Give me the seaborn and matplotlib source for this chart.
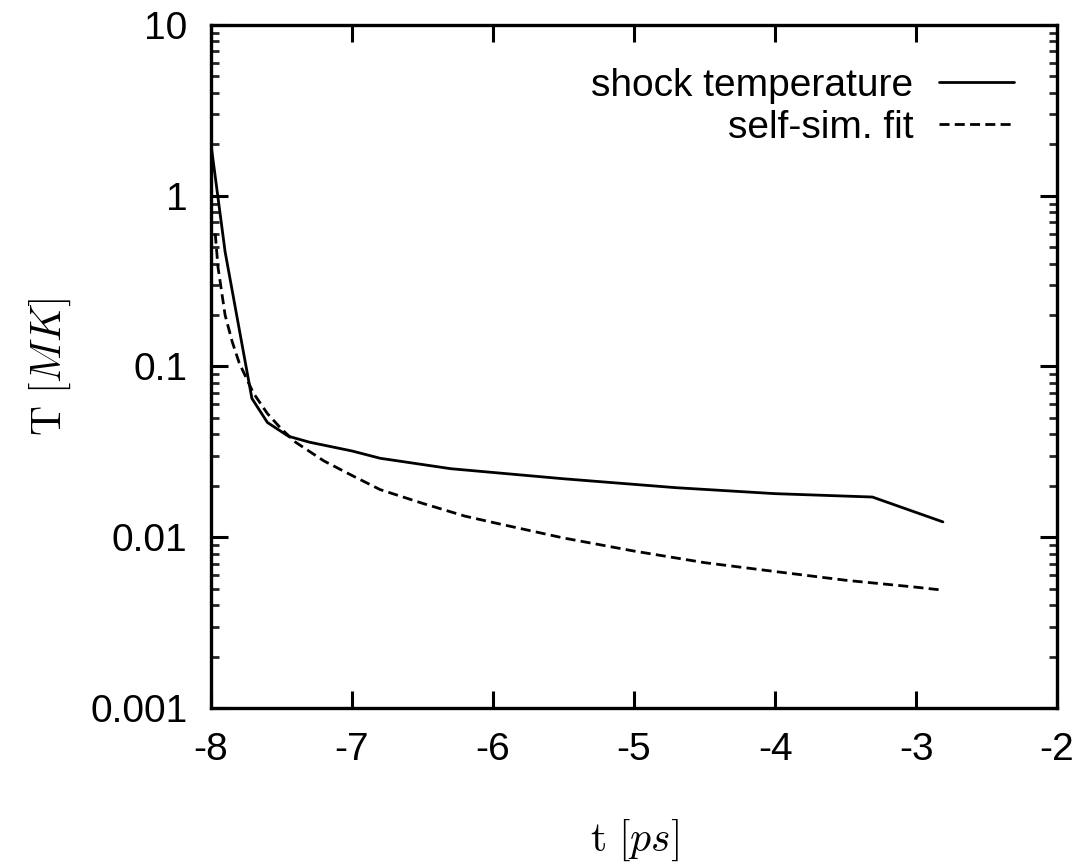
import numpy as np
import pandas as pd
import matplotlib
matplotlib.use("Agg")
import matplotlib.pyplot as plt
import seaborn as sns
from matplotlib.ticker import LogLocator, NullFormatter, FixedLocator
from matplotlib.lines import Line2D

# --- data ---
shock_t = [-8.0, -7.9, -7.71, -7.6, -7.45, -7.3, -7.0, -6.8, -6.3, -5.5, -4.7, -4.0, -3.31, -2.81]
shock_T = [2.0, 0.47, 0.065, 0.047, 0.039, 0.036, 0.032, 0.029, 0.0252, 0.0220, 0.0195, 0.0180, 0.0172, 0.0123]

fit_t = [-7.97, -7.95, -7.9, -7.85, -7.8, -7.7, -7.6, -7.5, -7.4, -7.2, -7.0, -6.8, -6.5,
         -6.2, -6.0, -5.5, -5.0, -4.5, -4.0, -3.5, -3.0, -2.81]
fit_T = [0.6, 0.38, 0.2, 0.14, 0.105, 0.07, 0.053, 0.043, 0.036, 0.028, 0.023, 0.019, 0.0158,
         0.0133, 0.0122, 0.0099, 0.0083, 0.0071, 0.0063, 0.0056, 0.0051, 0.0049]

series_names = ["shock temperature", "self-sim. fit"]
x_ticks = [-8, -7, -6, -5, -4, -3, -2]
y_ticks = [0.001, 0.01, 0.1, 1, 10]
y_tick_labels = ["0.001", "0.01", "0.1", "1", "10"]

df = pd.concat([
    pd.DataFrame({"t": shock_t, "T": shock_T, "series": series_names[0]}),
    pd.DataFrame({"t": fit_t, "T": fit_T, "series": series_names[1]}),
], ignore_index=True)

sns.set_style("ticks")
plt.rcParams["font.family"] = ["Liberation Sans", "DejaVu Sans"]
plt.rcParams["mathtext.fontset"] = "cm"
plt.rcParams["text.color"] = "black"
plt.rcParams["axes.labelcolor"] = "black"

fig = plt.figure(figsize=(10.82, 8.68), dpi=100)
ax = fig.add_axes([0.195, 0.1843, 0.782, 0.787])

dash = (3.6, 1.9)
sns.lineplot(data=df, x="t", y="T", hue="series", style="series",
             palette=["black", "black"], dashes=[(None, None), dash],
             linewidth=2.0, ax=ax, legend=False, sort=False, estimator=None)

ax.set_yscale("log")
ax.set_xlim(-8, -2)
ax.set_ylim(0.001, 10)

ax.xaxis.set_major_locator(FixedLocator(x_ticks))
ax.set_xticklabels([str(v) for v in x_ticks])
ax.yaxis.set_major_locator(FixedLocator(y_ticks))
ax.set_yticklabels(y_tick_labels)
ax.yaxis.set_minor_locator(LogLocator(base=10, subs=np.arange(2, 10)))
ax.yaxis.set_minor_formatter(NullFormatter())
ax.xaxis.set_minor_locator(FixedLocator([]))

for sp in ax.spines.values():
    sp.set_linewidth(2.4)
    sp.set_color("black")
    sp.set_visible(True)

ax.tick_params(axis="both", which="major", direction="in", length=12, width=2.2,
               labelsize=28, top=True, right=True, colors="black")
ax.tick_params(axis="y", which="minor", direction="in", length=6, width=2.0,
               left=True, right=True)
ax.tick_params(axis="y", which="major", pad=17)
ax.tick_params(axis="x", which="major", pad=17)

ax.set_xlabel(r"$\mathrm{t}\ [ps]$", fontsize=30, labelpad=36)
ax.set_ylabel(r"$\mathrm{T}\ [MK]$", fontsize=30, labelpad=12)

handles = [Line2D([], [], color="black", lw=2.0),
           Line2D([], [], color="black", lw=2.0, dashes=dash)]
leg = ax.legend(handles, series_names, loc="upper right", frameon=False,
                markerfirst=False, fontsize=28, handlelength=1.95,
                handletextpad=0.65, labelspacing=0.16,
                bbox_to_anchor=(0.968, 0.96), borderaxespad=0)

fig.savefig("out.png", dpi=100, facecolor="white")
